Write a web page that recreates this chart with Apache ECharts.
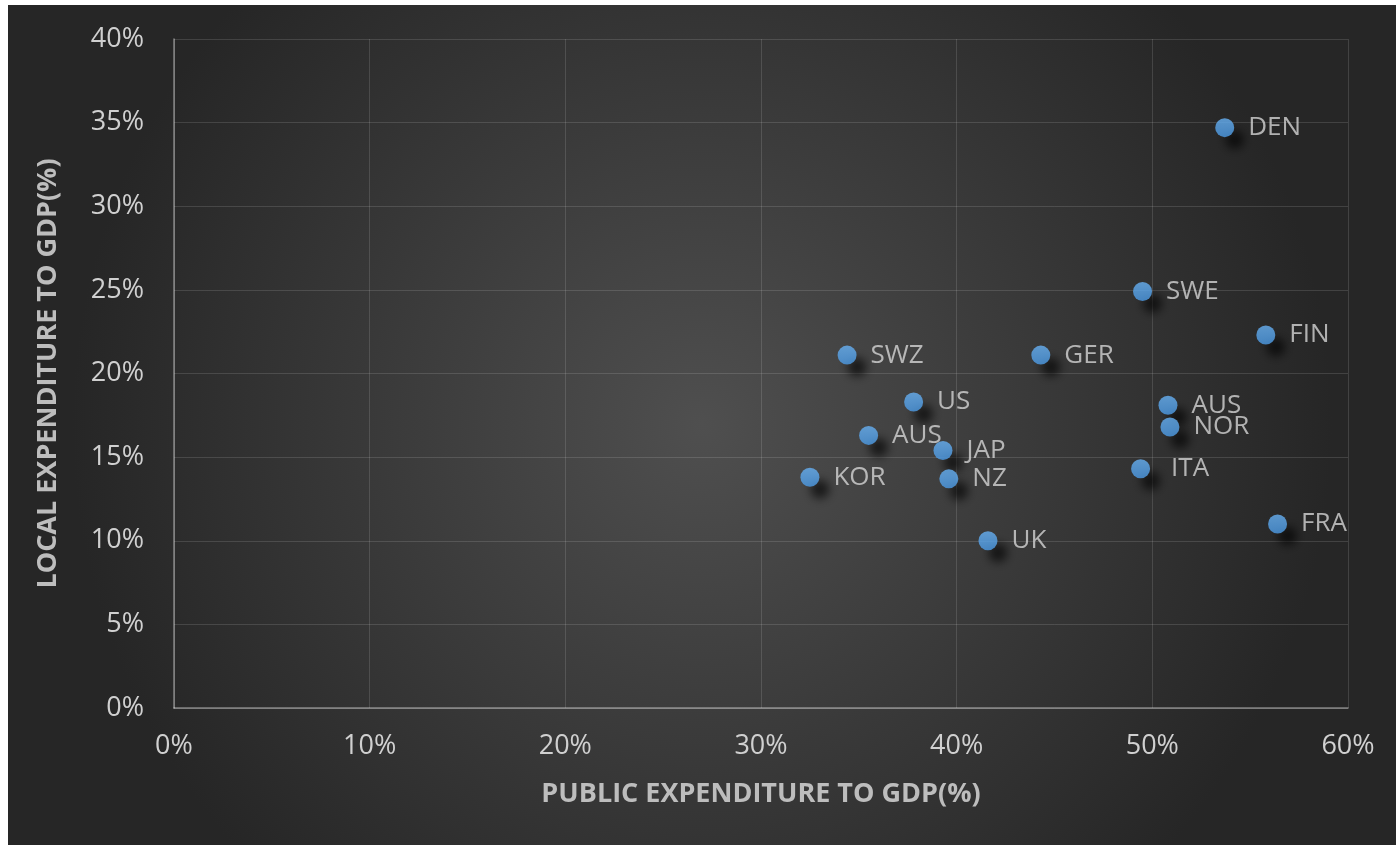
<!DOCTYPE html>
<html>
<head>
<meta charset="utf-8">
<script src="https://cdn.jsdelivr.net/npm/echarts@6/dist/echarts.min.js"></script>
<style>
  html, body { margin: 0; padding: 0; background: #fff; }
  #chart { position: absolute; left: 8px; top: 5px; width: 1388px; height: 840px; }
</style>
</head>
<body>
<div id="chart"></div>
<script>
// country codes and values (percent of GDP)
var countries = ['DEN', 'SWE', 'FIN', 'SWZ', 'GER', 'US', 'AUS', 'NOR', 'AUS', 'JAP', 'ITA', 'KOR', 'NZ', 'FRA', 'UK'];
var publicExp = [53.7, 49.5, 55.8, 34.4, 44.3, 37.8, 50.8, 50.9, 35.5, 39.3, 49.4, 32.5, 39.6, 56.4, 41.6];
var localExp  = [34.7, 24.9, 22.3, 21.1, 21.1, 18.3, 18.1, 16.8, 16.3, 15.4, 14.3, 13.8, 13.7, 11.0, 10.0];
var xTicks = [0, 10, 20, 30, 40, 50, 60];
var yTicks = [0, 5, 10, 15, 20, 25, 30, 35, 40];

var chart = echarts.init(document.getElementById('chart'));

var points = [];
for (var i = 0; i < countries.length; i++) {
    var p = { name: countries[i], value: [publicExp[i], localExp[i]] };
    if (countries[i] === 'ITA') {
        p.label = { distance: 21 };
    }
    points.push(p);
}

var tickColor = '#d0d0d0';
var titleColor = '#bdbdbd';

var option = {
    backgroundColor: new echarts.graphic.RadialGradient(0.5, 0.5, 0.75, [
        { offset: 0, color: '#4f4f4f' },
        { offset: 1, color: '#262626' }
    ]),
    textStyle: { fontFamily: 'Open Sans' },
    grid: { left: 166, right: 48, top: 34, bottom: 137 },
    xAxis: {
        type: 'value',
        min: xTicks[0],
        max: xTicks[xTicks.length - 1],
        interval: 10,
        name: 'PUBLIC EXPENDITURE TO GDP(%)',
        nameLocation: 'middle',
        nameGap: 73,
        nameTextStyle: { color: titleColor, fontSize: 27, fontWeight: 'bold', fontFamily: 'Open Sans' },
        axisLine: { show: true, lineStyle: { color: 'rgba(255,255,255,0.42)', width: 1.5 } },
        axisTick: { show: false },
        axisLabel: { color: tickColor, fontSize: 27, margin: 25, formatter: '{value}%' },
        splitLine: { show: true, lineStyle: { color: 'rgba(255,255,255,0.13)', width: 1 } }
    },
    yAxis: {
        type: 'value',
        min: yTicks[0],
        max: yTicks[yTicks.length - 1],
        interval: 5,
        name: 'LOCAL EXPENDITURE TO GDP(%)',
        nameLocation: 'middle',
        nameGap: 112,
        nameTextStyle: { color: titleColor, fontSize: 27, fontWeight: 'bold', fontFamily: 'Open Sans' },
        axisLine: { show: true, lineStyle: { color: 'rgba(255,255,255,0.42)', width: 1.5 } },
        axisTick: { show: false },
        axisLabel: { color: tickColor, fontSize: 27, margin: 30, formatter: '{value}%' },
        splitLine: { show: true, lineStyle: { color: 'rgba(255,255,255,0.13)', width: 1 } }
    },
    series: [{
        type: 'scatter',
        symbolSize: 19,
        data: points,
        itemStyle: {
            color: new echarts.graphic.LinearGradient(0, 0, 0, 1, [
                { offset: 0, color: '#68b2f5' },
                { offset: 1, color: '#4c9be6' }
            ]),
            shadowColor: 'rgba(0,0,0,0.8)',
            shadowBlur: 10,
            shadowOffsetX: 10,
            shadowOffsetY: 12
        },
        label: {
            show: true,
            position: 'right',
            distance: 14,
            formatter: '{b}',
            color: '#d4d4d4',
            fontSize: 26,
            fontFamily: 'Open Sans'
        },
        emphasis: { disabled: true }
    }]
};

chart.setOption(option);
window.addEventListener('resize', function () {
    chart.resize();
});
</script>
</body>
</html>
